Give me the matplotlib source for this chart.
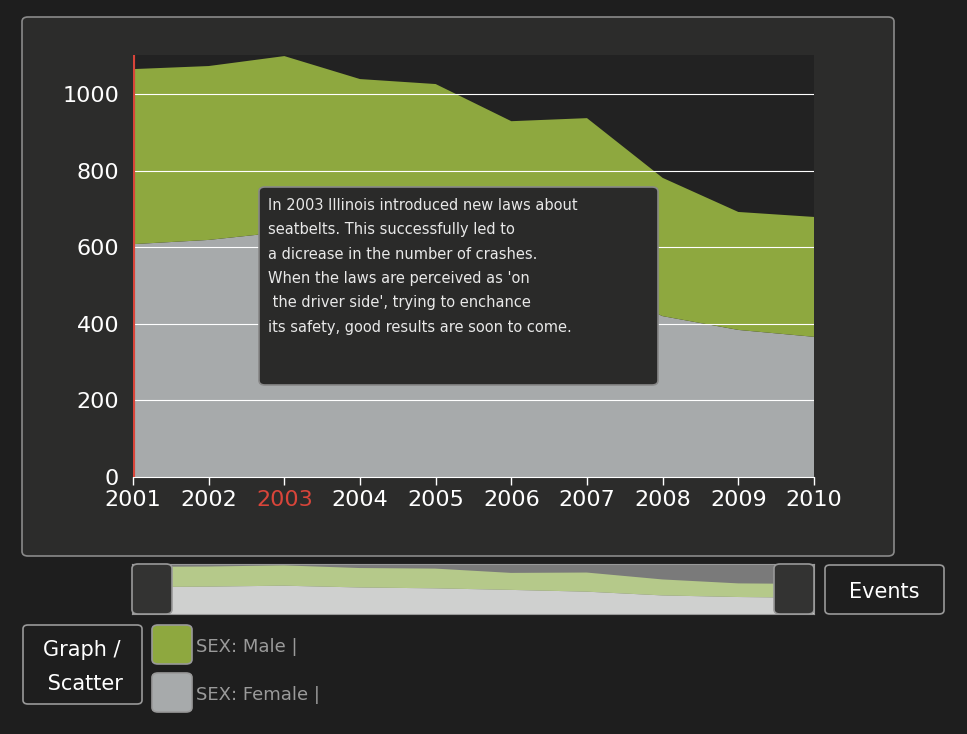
import matplotlib
matplotlib.use("Agg")
import matplotlib.pyplot as plt
from matplotlib.patches import FancyBboxPatch

years = [2001, 2002, 2003, 2004, 2005, 2006, 2007, 2008, 2009, 2010]
female = [608, 619, 640, 600, 580, 545, 505, 420, 384, 366]
total = [1065, 1073, 1099, 1039, 1026, 929, 937, 781, 692, 679]
male = [t - f for t, f in zip(total, female)]
yticks = [0, 200, 400, 600, 800, 1000]
note = ("In 2003 Illinois introduced new laws about\nseatbelts. This successfully led to\n"
        "a dicrease in the number of crashes.\nWhen the laws are perceived as 'on\n"
        " the driver side', trying to enchance\nits safety, good results are soon to come.")

W, H = 967, 734
fig = plt.figure(figsize=(W/100, H/100), dpi=100, facecolor="#1e1e1e")

def fx(x): return x / W
def fy(y): return 1 - y / H

def rbox(x0, y0, x1, y1, fc, ec, r=6, lw=1.2, z=0):
    p = FancyBboxPatch((fx(x0), fy(y1)), fx(x1-x0), (y1-y0)/H,
                       boxstyle=f"round,pad=0,rounding_size={r/W}",
                       transform=fig.transFigure, fc=fc, ec=ec, lw=lw, zorder=z)
    fig.patches.append(p)

rbox(22, 17, 894, 556, "#2c2c2b", "#8a8a8a", z=-5)

ax = fig.add_axes([fx(133), fy(477), fx(814-133), (477-55)/H])
ax.set_zorder(1)
ax.set_facecolor("#222222")
ax.stackplot(years, female, male, colors=["#a7aaab", "#8ea83f"])
ax.set_xlim(2001, 2010)
ax.set_ylim(0, 1000*422/383)
ax.set_yticks(yticks)
ax.set_xticks(years)
for y in yticks[1:]:
    ax.axhline(y, color="white", lw=0.8, zorder=3)
ax.axvline(2001, color="#d9453a", lw=3, zorder=4)
for s in ax.spines.values(): s.set_visible(False)
ax.spines["bottom"].set_visible(True); ax.spines["bottom"].set_color("white")
ax.tick_params(colors="white", labelsize=16, length=6, width=1)
ax.tick_params(axis="y", length=0, pad=10)
ax.get_xticklabels()[2].set_color("#d9453a")

rbox(259, 187, 658, 385, "#2a2a29", "#888888", r=6, z=5)
fig.text(fx(268), fy(198), note, color="#e8e8e8", fontsize=10.5, va="top", ha="left",
         linespacing=1.78, zorder=6)

# mini slider
ax2 = fig.add_axes([fx(132), fy(614), fx(814-132), 50/H])
ax2.set_zorder(1)
ax2.set_facecolor("#7a7a7a")
ax2.stackplot(years, female, male, colors=["#cfd0cf", "#b5c98a"])
ax2.set_xlim(2001, 2010); ax2.set_ylim(0, 1130)
ax2.set_xticks([]); ax2.set_yticks([])
for s in ax2.spines.values(): s.set_color("#999999")
rbox(132, 564, 172, 614, "#333332", "#999999", r=6, z=5)
rbox(774, 564, 814, 614, "#333332", "#999999", r=6, z=5)

rbox(825, 565, 944, 614, "#1e1e1e", "#999999", r=5)
fig.text(fx(884), fy(592), "Events", color="white", fontsize=15, ha="center", va="center")
rbox(23, 625, 142, 704, "#1e1e1e", "#999999", r=5)
fig.text(fx(82), fy(667), "Graph /\n Scatter", color="white", fontsize=15, ha="center",
         va="center", linespacing=1.9)
rbox(152, 625, 192, 664, "#8ea83f", "#999999", r=6)
rbox(152, 673, 192, 712, "#a7aaab", "#999999", r=6)
fig.text(fx(196), fy(647), "SEX: Male |", color="#9a9a9a", fontsize=13, va="center")
fig.text(fx(196), fy(695), "SEX: Female |", color="#9a9a9a", fontsize=13, va="center")

fig.savefig("out.png", dpi=100, facecolor=fig.get_facecolor())
